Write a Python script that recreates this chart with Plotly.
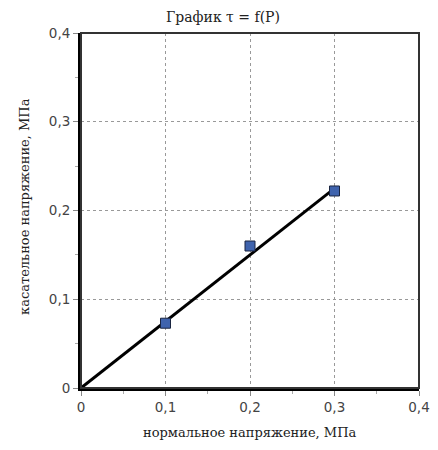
import plotly.graph_objects as go

# measured points: normal stress P (MPa) vs shear stress tau (MPa)
p_vals = [0.1, 0.2, 0.3]
tau_vals = [0.073, 0.160, 0.222]

# trend line drawn through the origin
line_p = [0.0, 0.3]
line_tau = [0.0, 0.225]

tick_vals = [0, 0.1, 0.2, 0.3, 0.4]
tick_text = ["0", "0,1", "0,2", "0,3", "0,4"]

SERIF = "DejaVu Serif"
SANS = "DejaVu Sans"

fig = go.Figure()
fig.add_trace(go.Scatter(
    x=line_p, y=line_tau, mode="lines",
    line=dict(color="black", width=3),
    showlegend=False, hoverinfo="skip",
))
fig.add_trace(go.Scatter(
    x=p_vals, y=tau_vals, mode="markers",
    marker=dict(symbol="square", size=10, color="#3f63ad",
                line=dict(color="#1a2540", width=1)),
    showlegend=False,
))

axis_common = dict(
    range=[0, 0.4],
    tickvals=tick_vals, ticktext=tick_text,
    ticks="outside", ticklen=5, tickcolor="#888",
    tickfont=dict(family=SANS, size=13.5, color="#444"),
    showgrid=True, gridcolor="#999", griddash="dot", gridwidth=1,
    zeroline=False, automargin=False,
    showline=True, linecolor="black", linewidth=3, mirror=False,
    minor=dict(dtick=0.05, ticks="outside", ticklen=3, tickcolor="#aaa",
               showgrid=False),
)

title_font = dict(family=SERIF, size=13, color="#222")

# page body has an 8px margin; keep the figure small enough to avoid clipping
W, H = 430, 434

fig.update_layout(
    width=W, height=H,
    margin=dict(l=73, r=19, t=25, b=54),
    paper_bgcolor="white", plot_bgcolor="white",
    separators=", ",
    title=dict(text="График τ = f(P)", x=0.5, xanchor="center",
               y=1 - 9 / H, yanchor="middle",
               font=dict(family=SERIF, size=14, color="#222")),
    xaxis=axis_common,
    yaxis=axis_common,
    shapes=[dict(type="rect", xref="paper", yref="paper", x0=0, x1=1, y0=0, y1=1,
                 line=dict(color="#333", width=2), layer="above")],
    annotations=[
        dict(text="нормальное напряжение, МПа", xref="paper", yref="paper",
             x=0.5, y=0, xanchor="center", yanchor="middle", yshift=-44,
             showarrow=False, font=title_font),
        dict(text="касательное напряжение, МПа", xref="paper", yref="paper",
             x=0, y=0.51, xanchor="center", yanchor="middle", xshift=-56,
             textangle=-90, showarrow=False, font=title_font),
    ],
)

fig.write_html("out.html")
